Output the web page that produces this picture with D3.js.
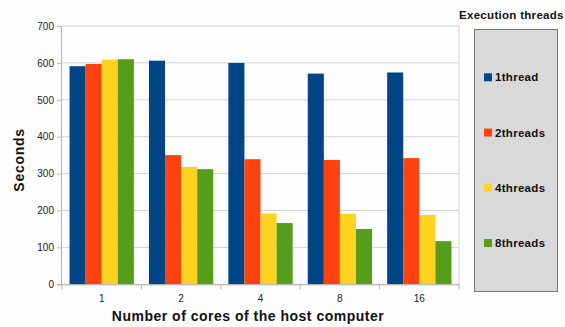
<!DOCTYPE html>
<html>
<head>
<meta charset="utf-8">
<script src="https://cdn.jsdelivr.net/npm/d3@7/dist/d3.min.js"></script>
<style>
  html, body { margin: 0; padding: 0; background: #fdfdfd; }
  svg { display: block; font-family: "Liberation Sans", Arial, sans-serif; }
</style>
</head>
<body>
<svg id="chart" width="565" height="327"></svg>
<script>
// Execution time per host core count, one series per thread count
const categories = ["1", "2", "4", "8", "16"];
const seriesNames = ["1thread", "2threads", "4threads", "8threads"];
const seriesColors = ["#004586", "#ff420e", "#ffd320", "#579d1c"];
const oneThread   = [591, 606, 600, 571, 574];
const twoThreads  = [597, 350, 339, 337, 342];
const fourThreads = [609, 318, 192, 191, 188];
const eightThreads = [610, 312, 166, 150, 117];
const yTicks = [0, 100, 200, 300, 400, 500, 600, 700];

const seriesValues = [oneThread, twoThreads, fourThreads, eightThreads];

const svg = d3.select("#chart");
const plot = { left: 62, right: 459, top: 26, bottom: 284.3 };

const x = d3.scaleBand().domain(categories).range([plot.left, plot.right]).paddingInner(0.19).paddingOuter(0.095);
const xs = d3.scaleBand().domain(seriesNames).range([0, x.bandwidth()]);
const y = d3.scaleLinear().domain([0, 700]).range([plot.bottom, plot.top]);

// horizontal gridlines
svg.append("g").selectAll("line").data(yTicks).join("line")
  .attr("x1", plot.left).attr("x2", plot.right)
  .attr("y1", d => y(d)).attr("y2", d => y(d))
  .attr("stroke", "#d4d4d4").attr("stroke-width", 1);

// right border of plot
svg.append("line")
  .attr("x1", plot.right).attr("x2", plot.right)
  .attr("y1", plot.top).attr("y2", plot.bottom)
  .attr("stroke", "#d4d4d4");

// bars
const rows = [];
categories.forEach((c, i) => seriesNames.forEach((s, j) => rows.push({ c, s, v: seriesValues[j][i], color: seriesColors[j] })));
svg.append("g").selectAll("rect").data(rows).join("rect")
  .attr("x", d => x(d.c) + xs(d.s))
  .attr("width", xs.bandwidth())
  .attr("y", d => y(d.v))
  .attr("height", d => y(0) - y(d.v))
  .attr("fill", d => d.color);

// y axis
const yAxis = svg.append("g").attr("transform", `translate(${plot.left},0)`)
  .call(d3.axisLeft(y).tickValues(yTicks).tickSize(5).tickPadding(3));
yAxis.select(".domain").attr("stroke", "#b3b3b3").attr("d", `M-0.5,${plot.bottom}V${plot.top}`);
yAxis.selectAll(".tick line").attr("stroke", "#b3b3b3");
yAxis.selectAll(".tick text").attr("font-size", 10).attr("fill", "#222");

// x axis with tick marks between categories
const xAxis = svg.append("g").attr("transform", `translate(0,${plot.bottom})`);
xAxis.append("line").attr("x1", plot.left - 5).attr("x2", plot.right)
  .attr("y1", 0.5).attr("y2", 0.5).attr("stroke", "#b3b3b3");
const boundaries = d3.range(categories.length + 1).map(i => plot.left + i * (plot.right - plot.left) / categories.length);
xAxis.selectAll(".sep").data(boundaries).join("line").attr("class", "sep")
  .attr("x1", d => d).attr("x2", d => d).attr("y1", 0).attr("y2", 5)
  .attr("stroke", "#b3b3b3");
xAxis.selectAll(".lbl").data(categories).join("text").attr("class", "lbl")
  .attr("x", d => x(d) + x.bandwidth() / 2).attr("y", 18)
  .attr("text-anchor", "middle").attr("font-size", 10).attr("fill", "#222")
  .text(d => d);

// axis titles
svg.append("text").attr("x", 248).attr("y", 321)
  .attr("text-anchor", "middle").attr("font-size", 14).attr("font-weight", "bold").attr("fill", "#111")
  .attr("letter-spacing", 0.5)
  .text("Number of cores of the host computer");
svg.append("text").attr("transform", "translate(23.5,160) rotate(-90)")
  .attr("text-anchor", "middle").attr("font-size", 14).attr("font-weight", "bold").attr("fill", "#111")
  .attr("letter-spacing", 0.7)
  .text("Seconds");

// legend
svg.append("text").attr("x", 459).attr("y", 19)
  .attr("font-size", 11.5).attr("font-weight", "bold").attr("fill", "#111")
  .attr("letter-spacing", 0.3)
  .text("Execution threads");
svg.append("rect").attr("x", 474.5).attr("y", 29.5).attr("width", 83).attr("height", 262)
  .attr("fill", "#d9d9d9").attr("stroke", "#777");
const legendY = d3.scalePoint().domain(seriesNames).range([77.3, 243]);
const items = svg.append("g").selectAll("g").data(seriesNames).join("g")
  .attr("transform", d => `translate(484,${legendY(d)})`);
items.append("rect").attr("x", 0).attr("y", -4).attr("width", 8).attr("height", 8)
  .attr("fill", (d, i) => seriesColors[i]);
items.append("text").attr("x", 11).attr("y", 4)
  .attr("font-size", 11.5).attr("font-weight", "bold").attr("fill", "#111")
  .attr("letter-spacing", 0.3)
  .text(d => d);
</script>
</body>
</html>
